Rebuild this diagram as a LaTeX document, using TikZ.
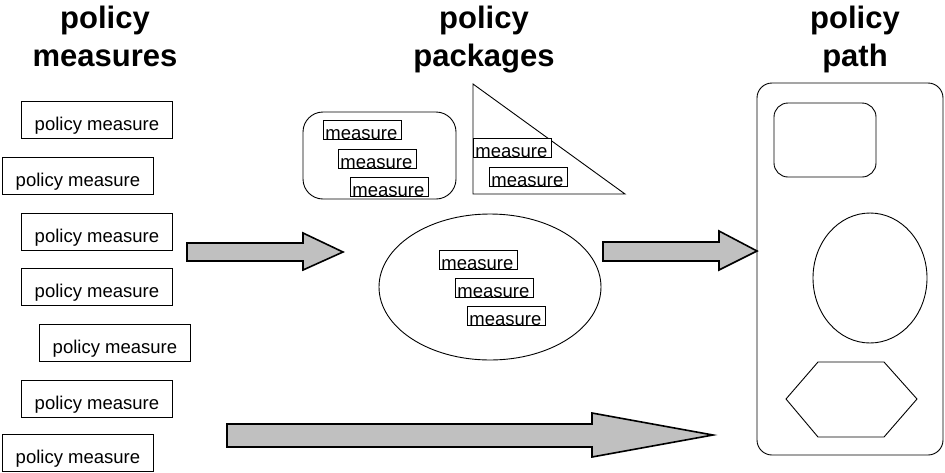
\documentclass[tikz,border=0pt]{standalone}
\usepackage{fontspec}
\setmainfont{Liberation Sans}
\usetikzlibrary{shapes.geometric}
\definecolor{arrowgray}{HTML}{C0C0C0}
\tikzset{
  title/.style={font=\bfseries\fontsize{31}{38}\selectfont, align=center, inner sep=0pt, anchor=north},
  pmbox/.style={draw, fill=white, line width=0.9pt, font=\fontsize{18.5}{20}\selectfont,
    minimum width=151pt, inner xsep=0pt, inner ysep=0pt, text height=29pt, text depth=8pt, anchor=south west},
  mbox/.style={draw, fill=white, line width=0.8pt, font=\fontsize{18.5}{20}\selectfont,
    inner xsep=2pt, inner ysep=0pt, text height=19pt, text depth=0.5pt, text width=74pt, align=left, anchor=south west},
  shapeline/.style={draw, line width=0.9pt},
  blockarrow/.style={draw, fill=arrowgray, line width=1.6pt, line join=miter}
}
\begin{document}
\begin{tikzpicture}[x=1pt,y=-1pt]
\useasboundingbox (0,0) rectangle (945,472);
% titles
\node[title] (t1) at (105,5.5) {policy\\measures};
\node[title] (t2) at (484,5.5) {policy\\packages};
\node[title] (t3) at (855,5.5) {policy\\path};
% policy measure boxes
\node[pmbox] (p1) at (21,139) {policy measure};
\node[pmbox] (p2) at (2,195) {policy measure};
\node[pmbox] (p3) at (21,251) {policy measure};
\node[pmbox] (p4) at (21,306) {policy measure};
\node[pmbox] (p5) at (39,362) {policy measure};
\node[pmbox] (p6) at (21,418) {policy measure};
\node[pmbox] (p7) at (2,472) {policy measure};
% package shapes
\draw[shapeline, rounded corners=20pt] (303,112) rectangle (456,199);
\draw[shapeline] (473,84) -- (473,194) -- (625,194) -- cycle;
\node[shapeline, ellipse, minimum width=222pt, minimum height=146pt, inner sep=0pt] (pe) at (490,287) {};
% measures
\node[mbox] (ma) at (323,140) {measure};
\node[mbox] (mb) at (338,169) {measure};
\node[mbox] (mc) at (350,197) {measure};
\node[mbox] (md) at (473,158) {measure};
\node[mbox] (me) at (489,187) {measure};
\node[mbox] (mf) at (439,270) {measure};
\node[mbox] (mg) at (455,298) {measure};
\node[mbox] (mh) at (467,326) {measure};
% path container
\draw[shapeline, rounded corners=15pt] (757,83) rectangle (943,455);
\draw[shapeline, rounded corners=14pt] (774,103) rectangle (876,177);
\node[shapeline, ellipse, minimum width=114pt, minimum height=130pt, inner sep=0pt] (pathell) at (870,278) {};
\draw[shapeline] (786,399) -- (818,362) -- (884,362) -- (917,399) -- (884,437) -- (818,437) -- cycle;
% block arrows
\draw[blockarrow] (187,243) -- (303,243) -- (303,233) -- (343,252) -- (303,270) -- (303,261) -- (187,261) -- cycle;
\draw[blockarrow] (603,242) -- (719,242) -- (719,231) -- (757,251) -- (719,270) -- (719,261) -- (603,261) -- cycle;
\draw[blockarrow] (227,424) -- (592,424) -- (592,413) -- (713,435) -- (592,457) -- (592,447) -- (227,447) -- cycle;
\end{tikzpicture}
\end{document}
